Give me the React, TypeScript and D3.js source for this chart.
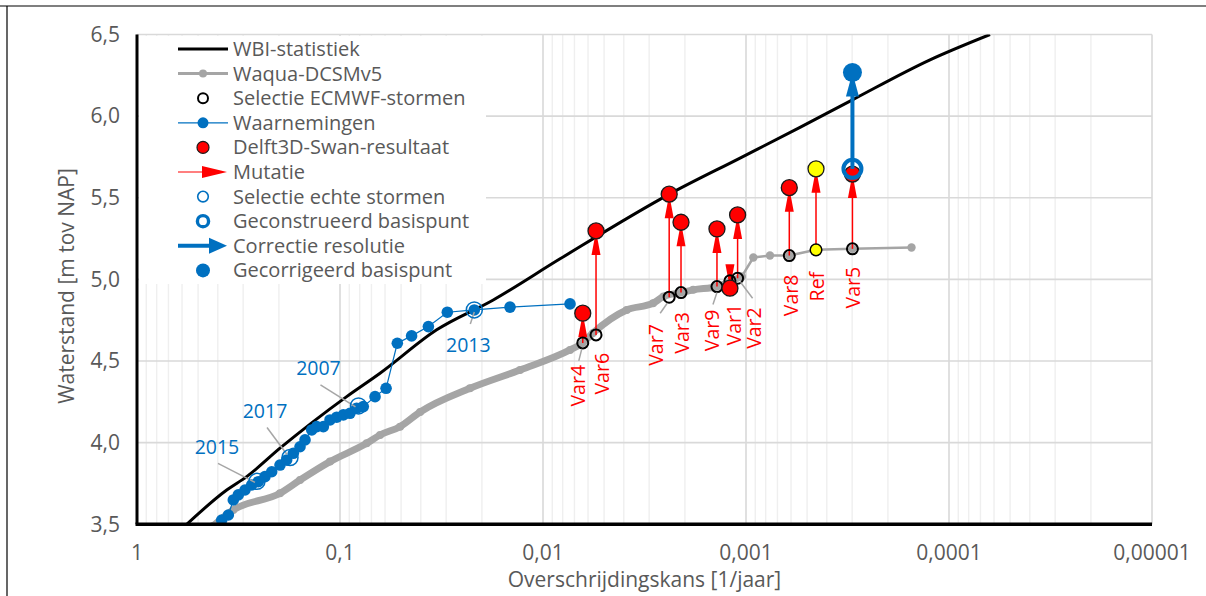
import React from "react";
import * as d3 from "d3";

const W = 1206;
const H = 596;
const FONT = "'Open Sans', 'DejaVu Sans', sans-serif";
const TXT = "#595959";
const BLUE = "#0070C0";
const RED = "#FF0000";
const GRAY = "#A5A5A5";

// Axis ticks
const yTicks = [3.5, 4.0, 4.5, 5.0, 5.5, 6.0, 6.5];
const xTicks = [1, 0.1, 0.01, 0.001, 0.0001, 0.00001];
const xTickLabels = ["1", "0,1", "0,01", "0,001", "0,0001", "0,00001"];

// WBI-statistiek (exceedance probability, water level)
const wbiP = [0.569, 0.3615, 0.2881, 0.1975, 0.1354, 0.0927, 0.0635, 0.0334, 0.01758, 0.00824, 0.00237, 0.00107, 0.000542, 0.000299, 0.000124, 0.0000628];
const wbiH = [3.5, 3.71, 3.792, 3.966, 4.129, 4.282, 4.425, 4.691, 4.874, 5.126, 5.524, 5.743, 5.931, 6.1, 6.345, 6.5];

// Waqua-DCSMv5
const waquaP = [0.422, 0.3355, 0.1975, 0.1574, 0.112, 0.0739, 0.0635, 0.0506, 0.0403, 0.0229, 0.01298, 0.00736, 0.00637, 0.00567, 0.00387, 0.00287, 0.00255, 0.00209, 0.00182, 0.00139, 0.0012, 0.00105, 0.00092, 0.000762, 0.000612, 0.000452, 0.000299, 0.000153];
const waquaH = [3.49, 3.588, 3.69, 3.771, 3.884, 3.996, 4.047, 4.098, 4.188, 4.333, 4.445, 4.568, 4.611, 4.672, 4.813, 4.854, 4.895, 4.919, 4.936, 4.956, 4.987, 5.017, 5.134, 5.146, 5.146, 5.181, 5.187, 5.195];
const waquaDenseCount = 22;

// Waarnemingen
const obsP = [0.3826, 0.3549, 0.3354, 0.317, 0.2938, 0.2723, 0.2526, 0.2342, 0.217, 0.1975, 0.1831, 0.1698, 0.1574, 0.1487, 0.1378, 0.1302, 0.1208, 0.112, 0.1038, 0.0963, 0.0893, 0.0828, 0.0768, 0.0672, 0.0593, 0.0522, 0.0444, 0.0367, 0.0296, 0.0218, 0.01454, 0.00736];
const obsH = [3.526, 3.557, 3.649, 3.68, 3.71, 3.741, 3.761, 3.792, 3.822, 3.863, 3.894, 3.935, 3.975, 4.017, 4.078, 4.098, 4.098, 4.139, 4.156, 4.17, 4.18, 4.211, 4.221, 4.282, 4.333, 4.609, 4.654, 4.711, 4.799, 4.813, 4.83, 4.85];

// Selectie echte stormen
const stormYears = ["2015", "2017", "2007", "2013"];
const stormP = [0.2564, 0.1763, 0.0811, 0.0218];
const stormH = [3.763, 3.909, 4.225, 4.813];
const stormLabelDx = [-40, -25, -40, -6];
const stormLabelDy = [-34, -46, -38, 35];
const stormLeader = [[-39, -18, -2, 1], [-23, -30, -3, -3], [-38, -21, -3, 1], [-4, 14, 0, 2]];

// ECMWF-stormen en Delft3D-Swan-resultaat (mutaties)
const varNames = ["Var4", "Var6", "Var7", "Var3", "Var9", "Var1", "Var2", "Var8", "Ref", "Var5"];
const varP = [0.00637, 0.00548, 0.00239, 0.00209, 0.00139, 0.0012, 0.0011, 0.000612, 0.000452, 0.000299];
const varBaseH = [4.611, 4.66, 4.891, 4.919, 4.956, 4.991, 5.007, 5.146, 5.181, 5.187];
const varResultH = [4.793, 5.297, 5.522, 5.35, 5.309, 4.946, 5.395, 5.562, 5.677, 5.645];
const varLabelDx = [-4.7, 5.7, -12.6, 0.7, -5, 4.5, 16.6, 1.4, 1.3, 0.4];
const varLabelDy = [22, 18, 27, 19.5, 23, 23, 29, 19, 22, 18];
const varLeader: (number[] | null)[] = [[-1, 6, -4, 18], null, [-2, 6, -9, 16], null, [0, 6, -4, 18], null, [3, 4, 15, 20], null, null, null];

// Geconstrueerd / gecorrigeerd basispunt
const constructedP = [0.000299];
const constructedH = [5.677];
const correctedH = [6.267];

const legendLabels = [
  "WBI-statistiek",
  "Waqua-DCSMv5",
  "Selectie ECMWF-stormen",
  "Waarnemingen",
  "Delft3D-Swan-resultaat",
  "Mutatie",
  "Selectie echte stormen",
  "Geconstrueerd basispunt",
  "Correctie resolutie",
  "Gecorrigeerd basispunt",
];

const fmtY = (v: number) => d3.format(".1f")(v).replace(".", ",");

function head(x1: number, y1: number, x2: number, y2: number, len: number, hw: number) {
  const dx = x2 - x1;
  const dy = y2 - y1;
  const d = Math.hypot(dx, dy) || 1;
  const ux = dx / d;
  const uy = dy / d;
  const bx = x2 - ux * len;
  const by = y2 - uy * len;
  return `${x2},${y2} ${bx - uy * hw},${by + ux * hw} ${bx + uy * hw},${by - ux * hw}`;
}

export default function App() {
  const L = 137, R = 1152, T = 34.5, B = 524.3;
  const x = d3.scaleLog().domain([1, 1e-5]).range([L, R]);
  const y = d3.scaleLinear().domain([3.5, 6.5]).range([B, T]);

  const minor: number[] = [];
  for (let e = -5; e < 0; e++) for (let k = 2; k <= 9; k++) minor.push(k * Math.pow(10, e));

  const line = d3.line<[number, number]>().x((d) => x(d[0])).y((d) => y(d[1]));
  const curve = d3.line<[number, number]>().x((d) => x(d[0])).y((d) => y(d[1])).curve(d3.curveMonotoneX);
  const wbiPts = wbiP.map((p, i) => [p, wbiH[i]] as [number, number]);
  const waquaPts = waquaP.map((p, i) => [p, waquaH[i]] as [number, number]);
  const densePts = waquaPts.slice(0, waquaDenseCount);
  const tailPts = waquaPts.slice(waquaDenseCount - 1);
  const obsPts = obsP.map((p, i) => [p, obsH[i]] as [number, number]);

  const legY0 = 49;
  const legStep = 24.6;
  const lx1 = 178, lx2 = 228, lxm = 203, ltx = 233;

  return (
    <svg width={W} height={H} style={{ position: "absolute", left: 0, top: 0, background: "#fff" }} fontFamily={FONT}>
      <defs>
        <clipPath id="plot">
          <rect x={L} y={T} width={R - L} height={B - T} />
        </clipPath>
      </defs>
      <rect x={0} y={0} width={W} height={H} fill="#fff" />
      {/* outer frame */}
      <line x1={0} x2={W} y1={6} y2={6} stroke="#000" strokeWidth={1.2} />
      <line x1={7} x2={7} y1={6} y2={H} stroke="#000" strokeWidth={1.2} />

      {/* grid */}
      {minor.map((v, i) => (
        <line key={"mn" + i} x1={x(v)} x2={x(v)} y1={T} y2={B} stroke="#EFEFEF" strokeWidth={1.4} />
      ))}
      {xTicks.map((v, i) => (
        <line key={"mx" + i} x1={x(v)} x2={x(v)} y1={T} y2={B} stroke="#D9D9D9" strokeWidth={1.6} />
      ))}
      {yTicks.map((v, i) => (
        <line key={"my" + i} x1={L} x2={R} y1={y(v)} y2={y(v)} stroke="#D9D9D9" strokeWidth={1.6} />
      ))}

      <g clipPath="url(#plot)">
        {/* Waqua */}
        <path d={curve(densePts) || ""} fill="none" stroke={GRAY} strokeWidth={7} strokeLinejoin="round" strokeLinecap="round" />
        {densePts.map((d, i) => (
          <circle key={"wd" + i} cx={x(d[0])} cy={y(d[1])} r={4} fill={GRAY} />
        ))}
        <path d={line(tailPts) || ""} fill="none" stroke={GRAY} strokeWidth={2.5} />
        {tailPts.map((d, i) => (
          <circle key={"wt" + i} cx={x(d[0])} cy={y(d[1])} r={4.2} fill={GRAY} />
        ))}
        {/* WBI */}
        <path d={curve(wbiPts) || ""} fill="none" stroke="#000" strokeWidth={3} />
        {/* Waarnemingen */}
        <path d={line(obsPts) || ""} fill="none" stroke={BLUE} strokeWidth={1.2} />
        {obsPts.map((d, i) => (
          <circle key={"ob" + i} cx={x(d[0])} cy={y(d[1])} r={5.8} fill={BLUE} />
        ))}
      </g>

      {/* storm leaders, rings, labels */}
      {stormYears.map((yr, i) => {
        const cx = x(stormP[i]);
        const cy = y(stormH[i]);
        const l = stormLeader[i];
        return (
          <g key={"st" + i}>
            <line x1={cx + l[0]} y1={cy + l[1]} x2={cx + l[2]} y2={cy + l[3]} stroke="#A6A6A6" strokeWidth={1.5} />
            <circle cx={cx} cy={cy} r={8} fill="none" stroke={BLUE} strokeWidth={1.5} />
            <text x={cx + stormLabelDx[i]} y={cy + stormLabelDy[i]} dy="0.35em" textAnchor="middle" fontSize={19.5} fill={BLUE}>
              {yr}
            </text>
          </g>
        );
      })}

      {/* mutation arrows */}
      {varNames.map((n, i) => {
        const cx = x(varP[i]);
        const y1 = y(varBaseH[i]);
        const y2 = y(varResultH[i]);
        return (
          <g key={"ar" + i}>
            <line x1={cx} x2={cx} y1={y1} y2={y2} stroke={RED} strokeWidth={1.5} />
            <polygon points={head(cx, y1, cx, y2, 24, 4.5)} fill={RED} />
          </g>
        );
      })}

      {/* ECMWF base circles */}
      {varNames.map((n, i) => {
        const cx = x(varP[i]);
        const cy = y(varBaseH[i]);
        return n === "Ref" ? (
          <circle key={"bc" + i} cx={cx} cy={cy} r={5.8} fill="#FFFF00" stroke="#000" strokeWidth={1.5} />
        ) : (
          <circle key={"bc" + i} cx={cx} cy={cy} r={5.5} fill="none" stroke="#000" strokeWidth={2} />
        );
      })}

      {/* result dots */}
      {varNames.map((n, i) => (
        <circle key={"rd" + i} cx={x(varP[i])} cy={y(varResultH[i])} r={8} fill={n === "Ref" ? "#FFFF00" : RED} stroke="#1a1a1a" strokeWidth={1.3} />
      ))}

      {/* var leaders + labels */}
      {varNames.map((n, i) => {
        const cx = x(varP[i]);
        const cy = y(varBaseH[i]);
        const l = varLeader[i];
        return (
          <g key={"vl" + i}>
            {l && <line x1={cx + l[0]} y1={cy + l[1]} x2={cx + l[2]} y2={cy + l[3]} stroke="#A6A6A6" strokeWidth={1.5} />}
            <text
              transform={`translate(${cx + varLabelDx[i]},${cy + varLabelDy[i]}) rotate(-90)`}
              textAnchor="end"
              dy="0.35em"
              fontSize={19.5}
              fill={RED}
            >
              {n}
            </text>
          </g>
        );
      })}

      {/* constructed / corrected */}
      {constructedP.map((p, i) => {
        const cx = x(p);
        const y1 = y(constructedH[i]);
        const y2 = y(correctedH[i]);
        return (
          <g key={"cc" + i}>
            <line x1={cx} x2={cx} y1={y1} y2={y2 + 12} stroke={BLUE} strokeWidth={4} />
            <polygon points={head(cx, y1, cx, y2, 24, 6.5)} fill={BLUE} />
            <circle cx={cx} cy={y2} r={9.5} fill={BLUE} />
            <circle cx={cx} cy={y1} r={9} fill="none" stroke={BLUE} strokeWidth={4} />
          </g>
        );
      })}

      {/* axes */}
      <line x1={L} x2={L} y1={T} y2={B} stroke="#000" strokeWidth={3} />
      <line x1={L - 1.5} x2={R} y1={B} y2={B} stroke="#000" strokeWidth={3.4} />

      {yTicks.map((v, i) => (
        <text key={"yt" + i} x={120} y={y(v)} dy="0.35em" textAnchor="end" fontSize={21} fill={TXT}>
          {fmtY(v)}
        </text>
      ))}
      {xTicks.map((v, i) => (
        <text key={"xt" + i} x={x(v)} y={560} textAnchor="middle" fontSize={21} fill={TXT}>
          {xTickLabels[i]}
        </text>
      ))}
      <text x={(L + R) / 2} y={587} textAnchor="middle" fontSize={21} fill={TXT}>
        Overschrijdingskans [1/jaar]
      </text>
      <text transform={`translate(74,${286}) rotate(-90)`} textAnchor="middle" fontSize={21} fill={TXT}>
        Waterstand [m tov NAP]
      </text>

      {/* legend */}
      <rect x={139} y={36} width={347} height={248} fill="#fff" />
      {legendLabels.map((lab, i) => {
        const cy = legY0 + i * legStep;
        let sym: React.ReactNode = null;
        if (i === 0) sym = <line x1={lx1} x2={lx2} y1={cy} y2={cy} stroke="#000" strokeWidth={3} />;
        else if (i === 1)
          sym = (
            <g>
              <line x1={lx1} x2={lx2} y1={cy} y2={cy} stroke={GRAY} strokeWidth={3} />
              <circle cx={lxm} cy={cy} r={4} fill={GRAY} />
            </g>
          );
        else if (i === 2) sym = <circle cx={lxm} cy={cy} r={5} fill="none" stroke="#000" strokeWidth={2} />;
        else if (i === 3)
          sym = (
            <g>
              <line x1={lx1} x2={lx2} y1={cy} y2={cy} stroke={BLUE} strokeWidth={1.2} />
              <circle cx={lxm} cy={cy} r={5.5} fill={BLUE} />
            </g>
          );
        else if (i === 4) sym = <circle cx={lxm} cy={cy} r={6} fill={RED} stroke="#1a1a1a" strokeWidth={1.2} />;
        else if (i === 5)
          sym = (
            <g>
              <line x1={lx1} x2={lx2 - 10} y1={cy} y2={cy} stroke={RED} strokeWidth={1.2} />
              <polygon points={head(lx1, cy, lx2 - 1, cy, 25, 6)} fill={RED} />
            </g>
          );
        else if (i === 6) sym = <circle cx={lxm} cy={cy} r={5.3} fill="none" stroke={BLUE} strokeWidth={1.6} />;
        else if (i === 7) sym = <circle cx={lxm} cy={cy} r={5.6} fill="none" stroke={BLUE} strokeWidth={3.4} />;
        else if (i === 8)
          sym = (
            <g>
              <line x1={lx1} x2={lx2 - 10} y1={cy} y2={cy} stroke={BLUE} strokeWidth={4} />
              <polygon points={head(lx1, cy, lx2 - 1, cy, 18, 8)} fill={BLUE} />
            </g>
          );
        else sym = <circle cx={lxm} cy={cy} r={7} fill={BLUE} />;
        return (
          <g key={"lg" + i}>
            {sym}
            <text x={ltx} y={cy} dy="0.35em" fontSize={20} fill={TXT}>
              {lab}
            </text>
          </g>
        );
      })}
    </svg>
  );
}
